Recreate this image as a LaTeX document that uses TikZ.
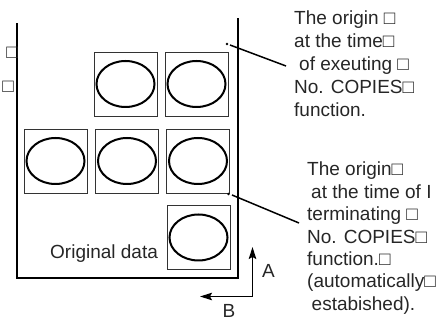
\documentclass[tikz,border=0pt]{standalone}
\usepackage{fontspec}
\setmainfont{Liberation Sans}
\usetikzlibrary{arrows.meta}
\begin{document}
\begin{tikzpicture}[x=1pt,y=-1pt,
  frameline/.style={line width=2pt,line cap=rect},
  cell/.style={draw=black!80,line width=0.8pt,minimum width=63pt,minimum height=64pt,inner sep=0pt},
  blob/.style={draw,line width=2pt},
  leader/.style={line width=1.5pt},
  axis/.style={line width=1.6pt,-{Stealth[length=12pt,width=7.5pt,inset=2pt]}},
  lbl/.style={font=\fontsize{19}{22.5}\selectfont,text=black!85,inner sep=0pt,anchor=base west},
]
\useasboundingbox (0,0) rectangle (445,320);
\clip (0,0) rectangle (445,320);

% frame
\draw[frameline] (17,24) -- (17,278) -- (237.5,278) -- (237.5,19);

% cells with ellipses
\node[cell] (c1) at (125.5,84) {};
\node[cell] (c2) at (196.5,84) {};
\node[cell] (c3) at (55.5,161) {};
\node[cell] (c4) at (127,161) {};
\node[cell] (c5) at (198,161) {};
\node[cell] (c6) at (198.5,237.5) {};
\foreach \c in {c1,c2,c3,c4,c5,c6}
  \draw[blob] (\c.center) ellipse [x radius=29pt, y radius=23pt];

\node[lbl] (orig) at (50,259) {Original data};

% left fragments
\node[lbl,anchor=base east] (f1) at (18,59) {□};
\node[lbl,anchor=base east] (f2) at (14,93) {□};

% leader lines
\coordinate (d1) at (227,44);
\coordinate (s1) at (230,45);
\coordinate (e1) at (286,66);
\fill (d1) circle (1.4pt);
\draw[leader] (s1) -- (e1);
\coordinate (d2) at (228.5,194);
\coordinate (s2) at (232,195);
\coordinate (e2) at (299,223);
\fill (d2) circle (1.4pt);
\draw[leader] (s2) -- (e2);

% text block 1
\foreach \x/\t [count=\i] in {294/The origin □, 294/at the time□, 299/of exeuting □, 294/No. COPIES□, 294/function.}
  \node[lbl] (ta\i) at (\x,{24.5+(\i-1)*23}) {\t};

% text block 2
\foreach \x/\t [count=\i] in {307/The origin□, 311/at the time of I, 307/terminating □, 307/No. COPIES□, 307/function.□, 307/(automatically□, 311.5/estabished).}
  \node[lbl] (tb\i) at (\x,{176+(\i-1)*22.4}) {\t};

% axes
\coordinate (o) at (252.5,296.5);
\coordinate (ta) at (252.5,247);
\coordinate (tbb) at (200,296.5);
\draw[axis] (o) -- (ta);
\draw[axis] (o) -- (tbb);
\node[lbl] (la) at (262,278) {A};
\node[lbl] (lb) at (222.5,317.5) {B};
\end{tikzpicture}
\end{document}
